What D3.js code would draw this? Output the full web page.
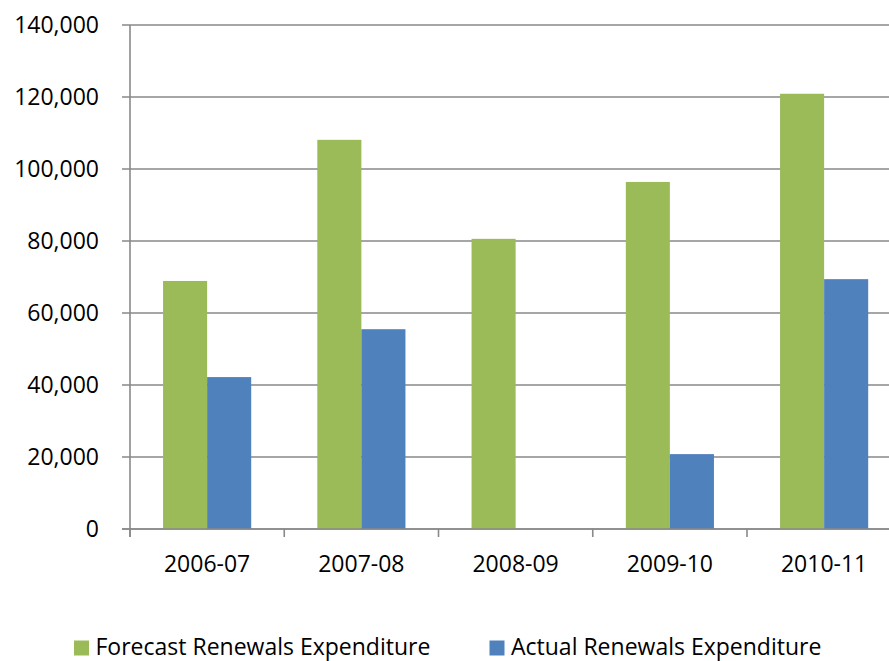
<!DOCTYPE html>
<html>
<head>
<meta charset="utf-8">
<script src="https://cdn.jsdelivr.net/npm/d3@7"></script>
<style>
  html, body { margin: 0; padding: 0; background: #fff; overflow: hidden; }
  text { font-family: "Open Sans", sans-serif; fill: #000; }
</style>
</head>
<body>
<svg id="chart" width="889" height="661"></svg>
<script>
const categories = ["2006-07", "2007-08", "2008-09", "2009-10", "2010-11"];
const seriesNames = ["Forecast Renewals Expenditure", "Actual Renewals Expenditure"];
const forecast = [68900, 108100, 80600, 96400, 120900];
const actual = [42200, 55500, null, 20800, 69400];
const yTicks = [0, 20000, 40000, 60000, 80000, 100000, 120000, 140000];
const colors = ["#9BBB59", "#4F81BD"];

const svg = d3.select("#chart");
const plotLeft = 130, bandStep = 154.25, plotTop = 25, plotBottom = 529;
const fontSize = 23;

const x0 = d3.scaleBand().domain(categories).range([plotLeft, plotLeft + bandStep * categories.length]).paddingInner(0).paddingOuter(0);
const x1 = d3.scaleBand().domain(seriesNames).range([0, x0.bandwidth()]).paddingInner(0).paddingOuter(0.75);
const y = d3.scaleLinear().domain([0, 140000]).range([plotBottom, plotTop]);
const fmt = d3.format(",");

// gridlines
svg.append("g").selectAll("line").data(yTicks).join("line")
  .attr("x1", plotLeft - 8).attr("x2", 889)
  .attr("y1", d => y(d)).attr("y2", d => y(d))
  .attr("stroke", "#898989").attr("stroke-width", 1.6);

// bars
const data = [forecast, actual];
const g = svg.append("g");
seriesNames.forEach((s, si) => {
  g.selectAll(null).data(categories.map((c, i) => ({c, v: data[si][i]})).filter(d => d.v != null))
    .join("rect")
    .attr("x", d => x0(d.c) + x1(s))
    .attr("width", x1.bandwidth())
    .attr("y", d => y(d.v))
    .attr("height", d => y(0) - y(d.v))
    .attr("fill", colors[si]);
});

// y axis line
svg.append("line").attr("x1", plotLeft).attr("x2", plotLeft).attr("y1", y(140000)).attr("y2", y(0) + 8)
  .attr("stroke", "#898989").attr("stroke-width", 1.6);
// x-axis line
svg.append("line").attr("x1", plotLeft - 8).attr("x2", 889).attr("y1", y(0)).attr("y2", y(0))
  .attr("stroke", "#898989").attr("stroke-width", 1.6);
// category boundary ticks
svg.append("g").selectAll("line").data(categories).join("line")
  .attr("x1", d => x0(d)).attr("x2", d => x0(d))
  .attr("y1", y(0)).attr("y2", y(0) + 8)
  .attr("stroke", "#898989").attr("stroke-width", 1.6);

// y labels
svg.append("g").selectAll("text").data(yTicks).join("text")
  .attr("x", 99).attr("y", d => y(d) + 8.3)
  .attr("text-anchor", "end")
  .attr("font-size", fontSize)
  .text(d => fmt(d));

// x labels
svg.append("g").selectAll("text").data(categories).join("text")
  .attr("x", d => x0(d) + x0.bandwidth() / 2).attr("y", 571.5)
  .attr("text-anchor", "middle")
  .attr("font-size", fontSize)
  .text(d => d);

// legend
const legendX = [74, 489.5];
const leg = svg.append("g");
seriesNames.forEach((s, i) => {
  leg.append("rect").attr("x", legendX[i]).attr("y", 640.5).attr("width", 15).attr("height", 15).attr("fill", colors[i]);
  leg.append("text")
    .attr("x", legendX[i] + 21.5).attr("y", 655.3)
    .attr("font-size", fontSize)
    .text(s);
});
</script>
</body>
</html>
